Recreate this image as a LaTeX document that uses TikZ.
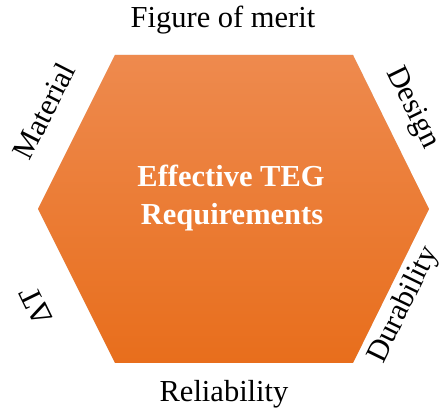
\documentclass[tikz,border=0pt]{standalone}
\usepackage{fontspec}
\setmainfont{Liberation Serif}
\definecolor{hextop}{HTML}{EE8A4E}
\definecolor{hexmid}{HTML}{F07D2C}
\definecolor{hexbot}{HTML}{E86E1C}
\definecolor{shadowc}{HTML}{8A8F98}
\tikzset{
  lbl/.style={font=\fontsize{30.5}{36}\selectfont, inner sep=0pt, text=black},
  title/.style={font=\fontsize{30.5}{36}\selectfont\bfseries, inner sep=0pt, text=white},
}
\begin{document}
\begin{tikzpicture}[x=1pt,y=1pt]
\useasboundingbox (0,0) rectangle (442,411);
\coordinate (L) at (38,202);
\coordinate (TL) at (115,356);
\coordinate (TR) at (353,356);
\coordinate (R) at (429,202);
\coordinate (BR) at (353,48);
\coordinate (BL) at (115,48);
% soft shadow
\foreach \s/\o in {5/0.06,4/0.08,3/0.10,2/0.12}{
  \fill[shadowc, opacity=\o, shift={(\s,-\s)}] (L) -- (TL) -- (TR) -- (R) -- (BR) -- (BL) -- cycle;
}
\shade[top color=hextop, middle color=hexmid, bottom color=hexbot]
  (L) -- (TL) -- (TR) -- (R) -- (BR) -- (BL) -- cycle;
\node[title, anchor=base] (teg1) at (231,224) {Effective TEG};
\node[title, anchor=base] (teg2) at (232,186) {Requirements};
\node[lbl, anchor=base] (fom) at (223,383) {Figure of merit};
\node[lbl, anchor=base] (rel) at (224,9) {Reliability};
\node[lbl, rotate=63] (mat) at (44,300) {Material};
\node[lbl, rotate=-64] (des) at (412,303) {Design};
\node[lbl, rotate=64] (dur) at (404,106) {Durability};
\node[lbl, rotate=116] (dt) at (36,105) {ΔT};
\end{tikzpicture}
\end{document}
